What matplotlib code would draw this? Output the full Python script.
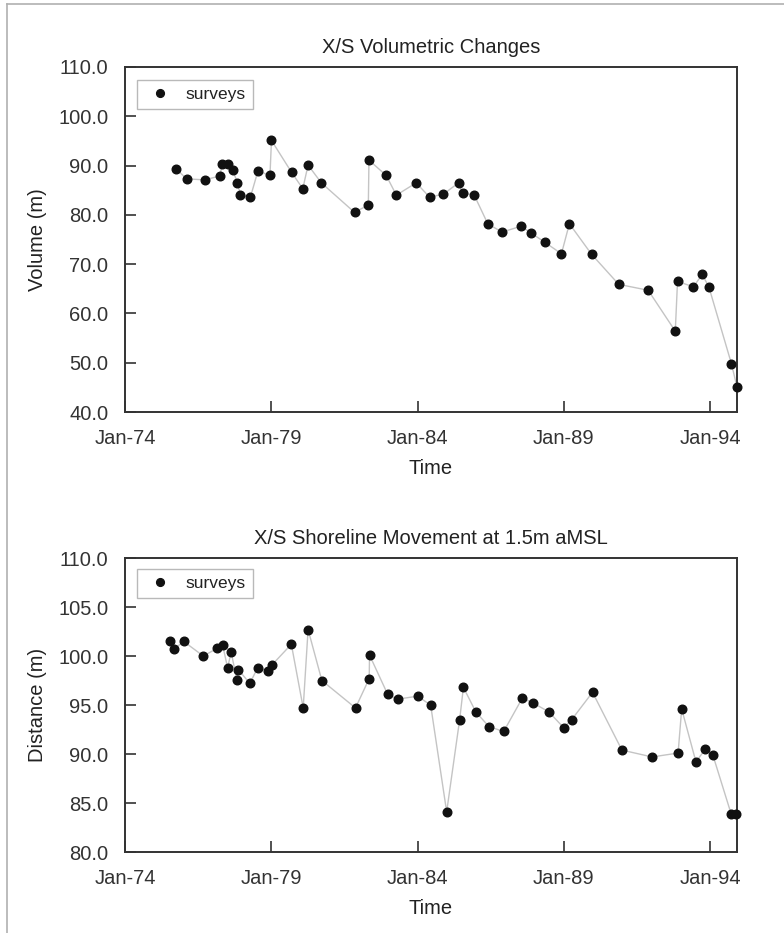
import matplotlib
matplotlib.use("Agg")
import matplotlib.pyplot as plt
import matplotlib.dates as mdates
from matplotlib.lines import Line2D
import pandas as pd

plt.rcParams['font.family'] = ['Liberation Sans', 'DejaVu Sans']
plt.rcParams['text.color'] = '#222222'
plt.rcParams['axes.labelcolor'] = '#222222'
plt.rcParams['xtick.color'] = '#333333'
plt.rcParams['ytick.color'] = '#333333'

# survey data
vol_dates = ["1975-09-27", "1976-02-10", "1976-09-27", "1977-03-29", "1977-05-01",
             "1977-07-05", "1977-09-09", "1977-11-03", "1977-12-13", "1978-04-16",
             "1978-07-19", "1978-12-16", "1979-01-04", "1979-09-13", "1980-01-30",
             "1980-04-05", "1980-09-17", "1981-11-06", "1982-04-27", "1982-05-05",
             "1982-12-06", "1983-04-12", "1983-12-16", "1984-05-30", "1984-11-20",
             "1985-05-27", "1985-07-19", "1985-12-06", "1986-05-27", "1986-11-20",
             "1987-07-19", "1987-11-20", "1988-05-12", "1988-12-02", "1989-03-11",
             "1989-12-13", "1990-11-17", "1991-11-20", "1992-10-23", "1992-11-20",
             "1993-06-06", "1993-09-24", "1993-12-16", "1994-09-24", "1994-12-02"]
vol_values = [89.4, 87.3, 87.1, 87.9, 90.4, 90.3, 89.1, 86.5, 84.1, 83.6,
              88.9, 88.0, 95.1, 88.6, 85.3, 90.1, 86.5, 80.5, 82.0, 91.1,
              88.0, 84.0, 86.5, 83.6, 84.2, 86.5, 84.4, 84.1, 78.2, 76.5,
              77.7, 76.3, 74.4, 72.1, 78.2, 72.0, 65.9, 64.7, 56.4, 66.5,
              65.4, 67.9, 65.4, 49.8, 45.1]

shore_dates = ["1975-07-15", "1975-09-09", "1976-01-02", "1976-09-05", "1977-02-28",
               "1977-05-05", "1977-07-05", "1977-08-19", "1977-10-27", "1977-11-18",
               "1978-04-09", "1978-07-15", "1978-11-25", "1979-01-11", "1979-09-09",
               "1980-02-04", "1980-04-05", "1980-09-24", "1981-11-18", "1982-05-08",
               "1982-05-12", "1982-12-24", "1983-04-27", "1984-01-01", "1984-06-13",
               "1984-12-30", "1985-06-10", "1985-07-27", "1985-12-29", "1986-06-10",
               "1986-12-12", "1987-08-01", "1987-12-17", "1988-06-28", "1988-12-28",
               "1989-04-08", "1989-12-25", "1990-12-27", "1992-01-08", "1992-11-27",
               "1993-01-11", "1993-07-08", "1993-11-02", "1994-02-04", "1994-09-20",
               "1994-11-22"]
shore_values = [101.5, 100.7, 101.5, 100.0, 100.8, 101.1, 98.8, 100.4, 97.6, 98.6,
                97.2, 98.8, 98.5, 99.1, 101.2, 94.7, 102.7, 97.5, 94.7, 97.7,
                100.1, 96.1, 95.6, 95.9, 95.0, 84.1, 93.5, 96.8, 94.3, 92.8,
                92.3, 95.7, 95.2, 94.3, 92.7, 93.5, 96.3, 90.4, 89.7, 90.1,
                94.6, 89.2, 90.5, 89.9, 83.9, 83.9]

x_start = "1974-01-01"
x_end = "1994-12-02"
tick_years = [1974, 1979, 1984, 1989, 1994]

fig = plt.figure(figsize=(7.84, 9.33), dpi=100)
ax1 = fig.add_axes([0.1594, 0.5584, 0.7806, 0.3698])
ax2 = fig.add_axes([0.1594, 0.0868, 0.7806, 0.3151])


def draw_panel(ax, dates, values, title, ylabel, ylim, ystep):
    d = pd.to_datetime(dates)
    ax.plot(d, values, color='#c4c4c4', lw=1.0, zorder=2, clip_on=False)
    ax.plot(d, values, ls='none', marker='o', ms=6.2, color='#111111',
            label='surveys', zorder=3, clip_on=False)
    ax.set_xlim(pd.Timestamp(x_start), pd.Timestamp(x_end))
    ax.set_ylim(*ylim)
    ticks = [pd.Timestamp(f"{y}-01-01") for y in tick_years]
    ax.set_xticks(ticks)
    ax.xaxis.set_major_formatter(mdates.DateFormatter('%b-%y'))
    yt = []
    v = ylim[0]
    while v <= ylim[1] + 1e-9:
        yt.append(v)
        v += ystep
    ax.set_yticks(yt)
    ax.set_yticklabels([f"{t:.1f}" for t in yt])
    ax.tick_params(direction='in', length=8, width=1.2, labelsize=14.5)
    ax.tick_params(axis='x', pad=12)
    ax.tick_params(axis='y', pad=12)
    for s in ax.spines.values():
        s.set_color('#333333')
        s.set_linewidth(1.4)
    ax.set_title(title, fontsize=14.5, pad=10)
    ax.set_xlabel('Time', fontsize=14.5, labelpad=8)
    ax.set_ylabel(ylabel, fontsize=14.5, labelpad=8)
    leg = ax.legend(loc='upper left', bbox_to_anchor=(0.0196, 0.962),
                    borderaxespad=0, fontsize=12.5, handlelength=1.9,
                    handletextpad=0.5, borderpad=0.4, fancybox=False,
                    numpoints=1, markerscale=0.9)
    leg.get_frame().set_edgecolor('#a8a8a8')
    leg.get_frame().set_linewidth(1.0)


draw_panel(ax1, vol_dates, vol_values, 'X/S Volumetric Changes',
           'Volume (m)', (40, 110), 10)
draw_panel(ax2, shore_dates, shore_values, 'X/S Shoreline Movement at 1.5m aMSL',
           'Distance (m)', (80, 110), 5)

# outer frame of the original figure
fig.add_artist(Line2D([7 / 784, 7 / 784], [0, 1 - 4 / 933], color='#b0b0b0', lw=1.2))
fig.add_artist(Line2D([7 / 784, 1], [1 - 4 / 933, 1 - 4 / 933], color='#b0b0b0', lw=1.2))

fig.savefig('out.png', dpi=100)
